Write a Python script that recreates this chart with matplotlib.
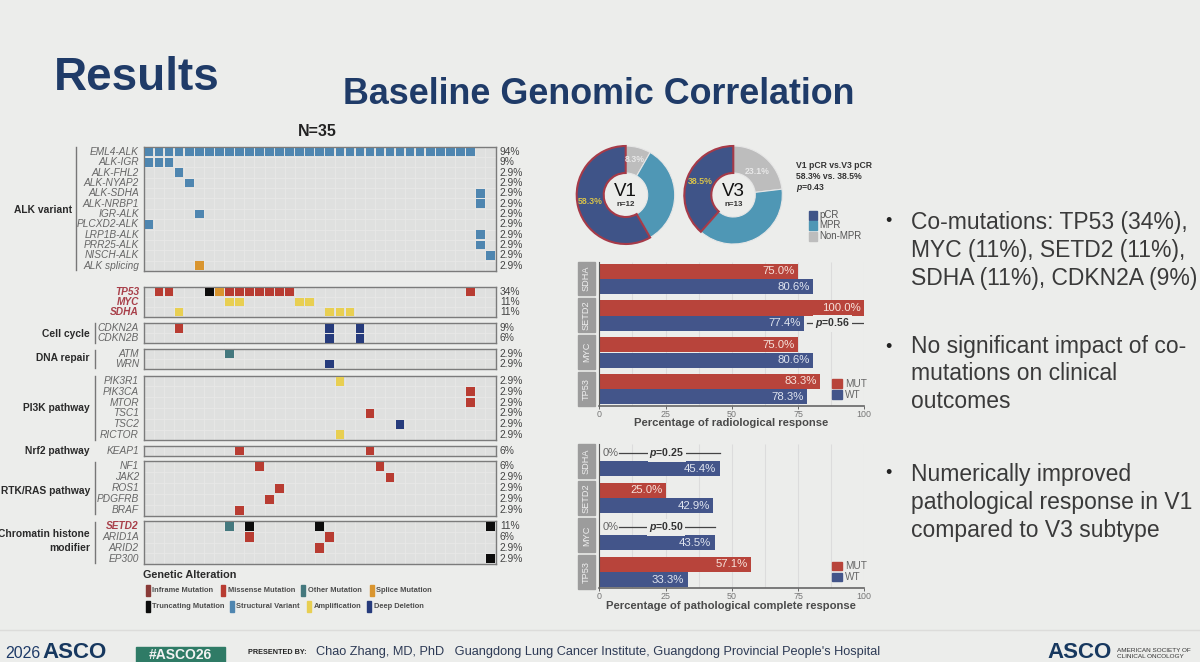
import matplotlib
matplotlib.use("Agg")
import matplotlib.pyplot as plt
from matplotlib.patches import Rectangle

plt.rcParams['font.family'] = ['Liberation Sans', 'DejaVu Sans']
plt.rcParams['mathtext.fontset'] = 'custom'
plt.rcParams['mathtext.bfit'] = 'Liberation Sans:italic:bold'
plt.rcParams['mathtext.it'] = 'Liberation Sans:italic'

# ------------------- data -------------------
alk_genes = ["EML4-ALK", "ALK-IGR", "ALK-FHL2", "ALK-NYAP2", "ALK-SDHA", "ALK-NRBP1",
             "IGR-ALK", "PLCXD2-ALK", "LRP1B-ALK", "PRR25-ALK", "NISCH-ALK", "ALK splicing"]
alk_pct = ["94%", "9%", "2.9%", "2.9%", "2.9%", "2.9%", "2.9%", "2.9%", "2.9%", "2.9%", "2.9%", "2.9%"]
alk_hits = [[(c, "V") for c in [0, 1, 2, 3, 4, 5, 6, 7, 8, 9, 10, 11, 12, 13, 14, 15, 16, 17, 18, 19,
                                20, 21, 22, 23, 24, 25, 26, 27, 28, 29, 30, 31, 32]],
            [(0, "V"), (1, "V"), (2, "V")], [(3, "V")], [(4, "V")], [(33, "V")], [(33, "V")],
            [(5, "V")], [(0, "V")], [(33, "V")], [(33, "V")], [(34, "V")], [(5, "S")]]

top_genes = ["TP53", "MYC", "SDHA"]
top_pct = ["34%", "11%", "11%"]
top_hits = [[(1, "M"), (2, "M"), (6, "T"), (7, "S"), (8, "M"), (9, "M"), (10, "M"), (11, "M"),
             (12, "M"), (13, "M"), (14, "M"), (32, "M")],
            [(8, "A"), (9, "A"), (15, "A"), (16, "A")],
            [(3, "A"), (18, "A"), (19, "A"), (20, "A")]]

cycle_genes = ["CDKN2A", "CDKN2B"]
cycle_pct = ["9%", "6%"]
cycle_hits = [[(3, "M"), (18, "D"), (21, "D")], [(18, "D"), (21, "D")]]

repair_genes = ["ATM", "WRN"]
repair_pct = ["2.9%", "2.9%"]
repair_hits = [[(8, "O")], [(18, "D")]]

pi3k_genes = ["PIK3R1", "PIK3CA", "MTOR", "TSC1", "TSC2", "RICTOR"]
pi3k_pct = ["2.9%", "2.9%", "2.9%", "2.9%", "2.9%", "2.9%"]
pi3k_hits = [[(19, "A")], [(32, "M")], [(32, "M")], [(22, "M")], [(25, "D")], [(19, "A")]]

nrf2_genes = ["KEAP1"]
nrf2_pct = ["6%"]
nrf2_hits = [[(9, "M"), (22, "M")]]

rtk_genes = ["NF1", "JAK2", "ROS1", "PDGFRB", "BRAF"]
rtk_pct = ["6%", "2.9%", "2.9%", "2.9%", "2.9%"]
rtk_hits = [[(11, "M"), (23, "M")], [(24, "M")], [(13, "M")], [(12, "M")], [(9, "M")]]

chrom_genes = ["SETD2", "ARID1A", "ARID2", "EP300"]
chrom_pct = ["11%", "6%", "2.9%", "2.9%"]
chrom_hits = [[(8, "O"), (10, "T"), (17, "T"), (34, "T")], [(10, "M"), (18, "M")], [(17, "M")], [(34, "T")]]

v1_sizes = [8.3, 33.4, 58.3]
v3_sizes = [23.1, 38.4, 38.5]

bar_genes = ["SDHA", "SETD2", "MYC", "TP53"]
radio_mut = [75.0, 100.0, 75.0, 83.3]
radio_wt = [80.6, 77.4, 80.6, 78.3]
path_mut = [0, 25.0, 0, 57.1]
path_wt = [45.4, 42.9, 43.5, 33.3]

# ------------------- colours -------------------
BG = "#ecedeb"
NAVY = "#1f3b68"
GREY = "#666666"
RED_GENE = "#a8404a"
alt_colors = {"I": "#8a3b38", "M": "#b83c32", "O": "#44787e", "S": "#d9952f", "T": "#0c0c0c",
              "V": "#4f86b0", "A": "#e8cf52", "D": "#263b7c"}
MUT = "#b8443b"
WT = "#43558a"
PCR = "#3f5488"
MPR = "#4f97b5"
NONMPR = "#bdbdbd"

fig = plt.figure(figsize=(12, 6.62), dpi=100, facecolor=BG)


def ax_px(left, top, right, bottom):
    return fig.add_axes([left / 1200, 1 - bottom / 662, (right - left) / 1200, (bottom - top) / 662])


# whole slide in pixel coordinates, used for the free text
page = ax_px(0, 0, 1200, 662)
page.set_xlim(0, 1200)
page.set_ylim(662, 0)
page.axis("off")

page.text(54, 78, "Results", color=NAVY, fontsize=33, fontweight="bold", va="center")
page.text(343, 94, "Baseline Genomic Correlation", color=NAVY, fontsize=25.8, fontweight="bold", va="center")
page.text(317, 132, "N=35", color="#222222", fontsize=11.5, fontweight="bold", ha="center", va="center")


# ------------------- oncoprint -------------------
def onco_panel(top, bottom, genes, pct, hits, red=()):
    ax = ax_px(144, top, 495.5, bottom)
    n = len(genes)
    ax.set_xlim(0, 35)
    ax.set_ylim(n, 0)
    ax.set_facecolor("#dfe0df")
    ax.vlines(range(1, 35), 0, n, color="#e8e8e7", lw=0.6)
    ax.hlines(range(1, n), 0, 35, color="#e8e8e7", lw=0.6)
    for row, row_hits in enumerate(hits):
        for col, kind in row_hits:
            ax.bar(col + 0.5, 0.84, width=0.86, bottom=row + 0.08, color=alt_colors[kind], zorder=3)
    ax.set_xticks([])
    ax.set_yticks([])
    for s in ax.spines.values():
        s.set_color("#7b7b7b")
        s.set_linewidth(1.0)
    step = (bottom - top) / n
    for row, gene in enumerate(genes):
        y = top + (row + 0.5) * step
        if gene in red:
            page.text(139, y, gene, color=RED_GENE, fontsize=7.3, style="italic", fontweight="bold",
                      ha="right", va="center")
        else:
            page.text(139, y, gene, color=GREY, fontsize=7.3, style="italic", ha="right", va="center")
        page.text(500, y, pct[row], color="#444444", fontsize=7.4, va="center")


onco_panel(146.7, 271, alk_genes, alk_pct, alk_hits)
onco_panel(287.3, 316.7, top_genes, top_pct, top_hits, red=top_genes)
onco_panel(323.3, 343.3, cycle_genes, cycle_pct, cycle_hits)
onco_panel(349, 369.3, repair_genes, repair_pct, repair_hits)
onco_panel(375.7, 440.3, pi3k_genes, pi3k_pct, pi3k_hits)
onco_panel(445.7, 455.7, nrf2_genes, nrf2_pct, nrf2_hits)
onco_panel(460.7, 515.7, rtk_genes, rtk_pct, rtk_hits)
onco_panel(520.7, 564.3, chrom_genes, chrom_pct, chrom_hits, red=["SETD2"])


def group_label(text, right, y, bar_x=None, top=None, bottom=None):
    page.text(right, y, text, color="#2a2a2a", fontsize=7.4, fontweight="bold", ha="right", va="center",
              linespacing=1.5)
    if bar_x is not None:
        page.plot([bar_x, bar_x], [top, bottom], color="#777777", lw=1)


group_label("ALK variant", 72, 210, 76, 147, 270)
group_label("Cell cycle", 90, 334, 95, 323, 343)
group_label("DNA repair", 90, 358, 95, 350, 368)
group_label("PI3K pathway", 90, 408, 95, 376, 440)
group_label("Nrf2 pathway", 90, 451)
group_label("RTK/RAS pathway", 90, 491, 95, 462, 514)
group_label("Chromatin histone\nmodifier", 90, 541, 95, 522, 563)

page.text(143, 575, "Genetic Alteration", color="#2a2a2a", fontsize=7.8, fontweight="bold", va="center")
alt_names = ["Inframe Mutation", "Missense Mutation", "Other Mutation", "Splice Mutation",
             "Truncating Mutation", "Structural Variant", "Amplification", "Deep Deletion"]
alt_keys = ["I", "M", "O", "S", "T", "V", "A", "D"]
key_x = [146, 221, 301, 370, 146, 230, 307, 367]
key_y = [590, 590, 590, 590, 606, 606, 606, 606]
for name, kind, x, y in zip(alt_names, alt_keys, key_x, key_y):
    page.add_patch(Rectangle((x, y - 5.5), 3.6, 11, color=alt_colors[kind]))
    page.text(x + 6.5, y, name, color="#4d4d4d", fontsize=5.4, fontweight="bold", va="center")


# ------------------- donuts -------------------
def donut(cx, cy, sizes, name, n):
    ax = ax_px(cx - 52, cy - 52, cx + 52, cy + 52)
    ax.set_xlim(-52, 52)
    ax.set_ylim(-52, 52)
    ax.set_aspect("equal")
    wedges, _ = ax.pie(sizes, colors=[NONMPR, MPR, PCR], startangle=90, counterclock=False, radius=49,
                       center=(0, 0), frame=True, wedgeprops=dict(width=27, linewidth=0.8, edgecolor="#e6e6e6"))
    wedges[2].set_edgecolor("#a63a48")
    wedges[2].set_linewidth(1.5)
    ax.set_xlim(-52, 52)
    ax.set_ylim(-52, 52)
    ax.axis("off")
    page.text(cx, cy - 4, name, color="#111111", fontsize=13.5, ha="center", va="center")
    page.text(cx, cy + 10, n, color="#333333", fontsize=5.8, fontweight="bold", ha="center", va="center")


donut(625.7, 195, v1_sizes, "V1", "n=12")
donut(733.3, 195, v3_sizes, "V3", "n=13")
page.text(590, 202, "58.3%", color="#d8c24a", fontsize=6.3, fontweight="bold", ha="center", va="center", zorder=5)
page.text(635, 159, "8.3%", color="#e8e8e8", fontsize=6.3, fontweight="bold", ha="center", va="center", zorder=5)
page.text(700, 182, "38.5%", color="#d8c24a", fontsize=6.3, fontweight="bold", ha="center", va="center", zorder=5)
page.text(757, 171, "23.1%", color="#e8e8e8", fontsize=6.3, fontweight="bold", ha="center", va="center", zorder=5)
page.set_zorder(5)

page.text(795.5, 165.5, "V1 pCR vs.V3 pCR", color="#333333", fontsize=6.2, fontweight="bold", va="center")
page.text(795.5, 176.5, "58.3% vs. 38.5%", color="#333333", fontsize=6.2, fontweight="bold", va="center")
page.text(795.5, 187.5, r"$\mathbfit{p}$=0.43", color="#333333", fontsize=6.2, fontweight="bold", va="center")

for label, color, y in zip(["pCR", "MPR", "Non-MPR"], [PCR, MPR, NONMPR], [215, 225.5, 236]):
    page.add_patch(Rectangle((809, y - 4.5), 8, 9, color=color))
    page.text(819, y, label, color="#555555", fontsize=7, va="center")


# ------------------- response bars -------------------
def response_bars(top, bottom, spacing, first_center, mut, wt, xlabel, label_y, strip_top):
    ax = ax_px(599.3, top, 864.3, bottom)
    ax.set_facecolor("none")
    ax.set_xlim(0, 100)
    ax.set_ylim((bottom - first_center) / spacing, (top - first_center) / spacing)
    ax.vlines([12.5, 25, 37.5, 50, 62.5, 75, 87.5, 100], *ax.get_ylim(), color="#dcdcdc", lw=0.8, zorder=0)
    h = 0.42
    for i in range(len(bar_genes)):
        ax.barh(i - h / 2, mut[i], height=h * 0.98, color=MUT, zorder=2)
        ax.barh(i + h / 2, wt[i], height=h * 0.98, color=WT, zorder=2)
        if mut[i] > 0:
            ax.text(mut[i] - 1.2, i - h / 2, f"{mut[i]:.1f}%", color="#f6e3dc", fontsize=8.2,
                    ha="right", va="center", zorder=3)
        else:
            ax.text(4.2, i - h / 2, "0%", color=GREY, fontsize=8, ha="center", va="center", zorder=3)
        ax.text(wt[i] - 1.2, i + h / 2, f"{wt[i]:.1f}%", color="#dfe4ef", fontsize=8.2,
                ha="right", va="center", zorder=3)
        y0 = strip_top + i * spacing
        page.add_patch(Rectangle((577.7, y0), 17.3, spacing * 0.92, color="#9c9c9c"))
        page.text(586.3, y0 + spacing * 0.46, bar_genes[i], color="#f0f0f0", fontsize=6.6, rotation=90,
                  ha="center", va="center")
    ax.set_xticks([0, 25, 50, 75, 100])
    ax.set_yticks([])
    ax.tick_params(axis="x", labelsize=6.4, labelcolor="#777777", color="#666666", length=2, pad=1, width=0.7)
    for s in ["top", "right"]:
        ax.spines[s].set_visible(False)
    ax.spines["left"].set_color("#555555")
    ax.spines["bottom"].set_color("#666666")
    ax.spines["bottom"].set_linewidth(1.2)
    page.text(731, label_y, xlabel, color="#4a4a4a", fontsize=8.1, fontweight="bold", ha="center", va="center")
    handles = [Rectangle((0, 0), 1, 1, color=MUT), Rectangle((0, 0), 1, 1, color=WT)]
    ax.legend(handles, ["MUT", "WT"], loc="lower right", bbox_to_anchor=(1.02, 0.02), frameon=False, fontsize=7.2,
              labelcolor="#666666", handlelength=1, handleheight=1, handletextpad=0.3, labelspacing=0.1,
              borderpad=0, borderaxespad=0.3)
    return ax


def p_line(ax, y, x0, x1, xtext, text):
    ax.plot([x0, x1], [y, y], color="#444444", lw=0.9, zorder=3)
    ax.text(xtext, y, text, color="#333333", fontsize=7.6, fontweight="bold", ha="center", va="center", zorder=4,
            bbox=dict(facecolor=BG, edgecolor="none", pad=1.2))


radio_ax = response_bars(261.7, 406, 36.7, 279, radio_mut, radio_wt, "Percentage of radiological response",
                         422.5, 261.7)
p_line(radio_ax, 1 + 0.21, 78.5, 99.5, 88, r"$\mathbfit{p}$=0.56")

path_ax = response_bars(444, 588.3, 37, 461, path_mut, path_wt, "Percentage of pathological complete response",
                        606, 444.3)
p_line(path_ax, -0.21, 7.5, 45.4, 25.5, r"$\mathbfit{p}$=0.25")
p_line(path_ax, 2 - 0.21, 7.5, 43.5, 25.3, r"$\mathbfit{p}$=0.50")

# ------------------- bullets -------------------
bullet_lines = [("Co-mutations: TP53 (34%),", 222, True), ("MYC (11%), SETD2 (11%),", 250, False),
                ("SDHA (11%), CDKN2A (9%)", 278, False), ("No significant impact of co-", 347, True),
                ("mutations on clinical", 374, False), ("outcomes", 401, False),
                ("Numerically improved", 474, True), ("pathological response in V1", 502, False),
                ("compared to V3 subtype", 530, False)]
for line, y, first in bullet_lines:
    page.text(911, y, line, color="#3a3a3a", fontsize=16.5, va="center")
    if first:
        page.text(888, y, "•", color="#222222", fontsize=13, ha="center", va="center")

# ------------------- footer -------------------
page.plot([0, 1200], [630, 630], color="#dcdcda", lw=1)
page.text(5, 654, "2026", color=NAVY, fontsize=11.5, va="center")
page.text(42, 652, "ASCO", color="#17385f", fontsize=16, fontweight="bold", va="center")
page.add_patch(Rectangle((136, 647), 89, 15, color="#2f7b66"))
page.text(180, 655, "#ASCO26", color="#f2f2f2", fontsize=10, fontweight="bold", ha="center", va="center")
page.text(248, 653, "PRESENTED BY:", color="#222222", fontsize=5.2, fontweight="bold", va="center")
page.text(316, 652, "Chao Zhang, MD, PhD   Guangdong Lung Cancer Institute, Guangdong Provincial People's Hospital",
          color="#2d3a55", fontsize=9.2, va="center")
page.text(1047, 652, "ASCO", color="#17385f", fontsize=16, fontweight="bold", va="center")
page.text(1117, 650, "AMERICAN SOCIETY OF", color="#333333", fontsize=4.6, va="center")
page.text(1117, 657, "CLINICAL ONCOLOGY", color="#333333", fontsize=4.6, va="center")

fig.savefig("out.png", dpi=100, facecolor=BG)
